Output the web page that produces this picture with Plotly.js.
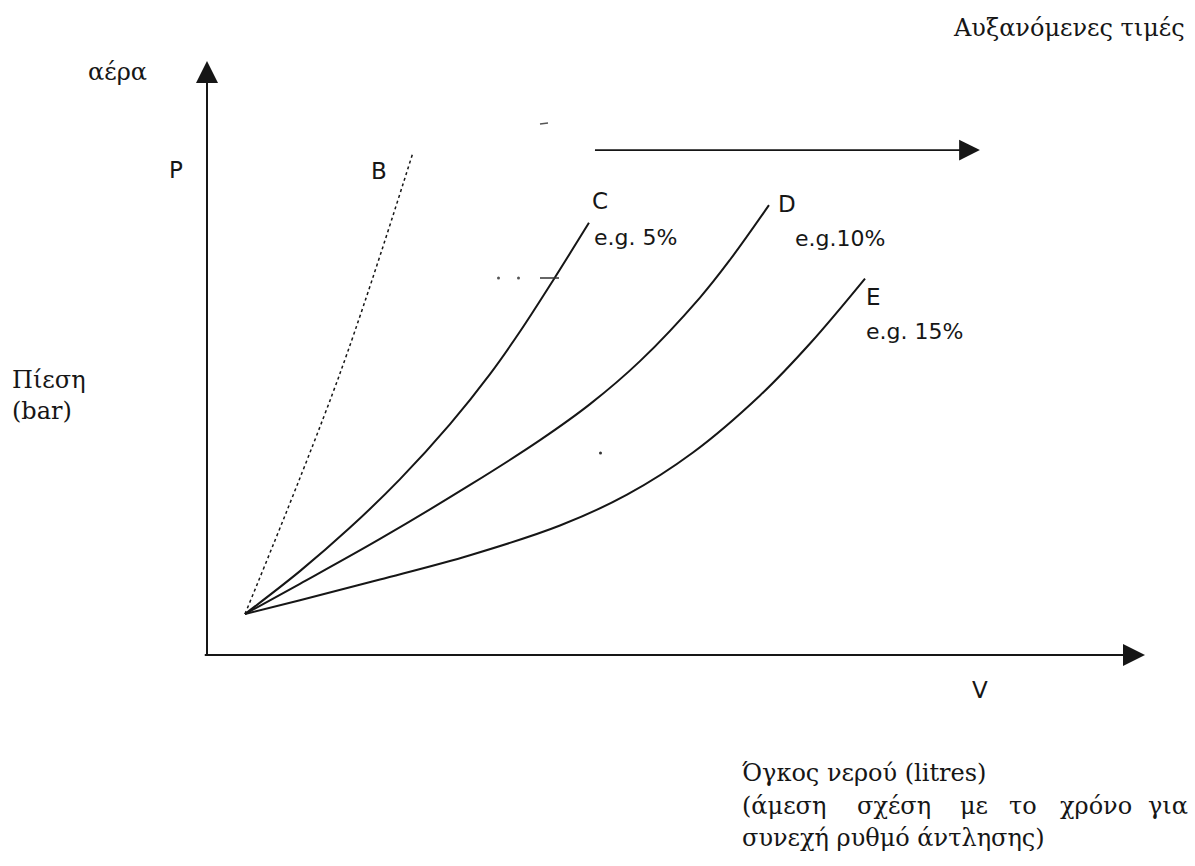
<!DOCTYPE html>
<html>
<head>
<meta charset="utf-8">
<script src="https://cdn.plot.ly/plotly-3.0.1.min.js"></script>
<style>html,body{margin:0;padding:0;background:#fff;}#chart{width:1195px;height:866px;}</style>
</head>
<body>
<div id="chart"></div>
<script>
// Values (arbitrary units: V 0-100, P 0-100)
const curveB_V = [4.05, 14.2, 21.9];
const curveB_P = [6.9, 47.5, 84.3];

const curveC_V = [4.05, 9.91, 15.25, 20.58, 25.91, 30.17, 33.37, 36.89, 40.72];
const curveC_P = [6.9, 14.12, 21.45, 29.61, 38.87, 47.29, 54.46, 63.06, 72.76];

const curveD_V = [4.05, 9.91, 18.44, 28.04, 35.50, 40.83, 46.16, 52.56, 55.76, 59.91];
const curveD_P = [6.9, 11.99, 19.54, 28.63, 36.17, 42.23, 49.47, 60.18, 66.54, 75.73];

const curveE_V = [4.05, 9.91, 18.44, 28.04, 37.63, 44.78, 51.81, 58.96, 64.29, 70.15];
const curveE_P = [6.9, 9.22, 12.71, 16.80, 21.80, 26.99, 34.09, 43.69, 52.44, 63.37];

const curveLetters = ["B", "C", "D", "E"];
const curveNotes = ["", "e.g. 5%", "e.g.10%", "e.g. 15%"];
const xTitleLine1 = "Όγκος νερού (litres)";
const xTitleLine2Words = ["(άμεση", "σχέση", "με", "το", "χρόνο", "για"];
const xTitleLine3 = "συνεχή ρυθμό άντλησης)";

const serif = "DejaVu Serif, Liberation Serif, serif";
const sans = "DejaVu Sans, Arial, sans-serif";
const ink = "#161616";

const traces = [
  {x: curveB_V, y: curveB_P, mode: "lines", line: {color: ink, width: 1.5, dash: "dot", shape: "spline"}, hoverinfo: "skip"},
  {x: curveC_V, y: curveC_P, mode: "lines", line: {color: ink, width: 2, shape: "spline", smoothing: 1}, hoverinfo: "skip"},
  {x: curveD_V, y: curveD_P, mode: "lines", line: {color: ink, width: 2, shape: "spline", smoothing: 1}, hoverinfo: "skip"},
  {x: curveE_V, y: curveE_P, mode: "lines", line: {color: ink, width: 2, shape: "spline", smoothing: 1}, hoverinfo: "skip"}
];

const hiddenAxis = {range: [0, 100], showgrid: false, zeroline: false, showticklabels: false, showline: false, ticks: "", fixedrange: true};

const ann = [];
// axis arrows
ann.push({x: 0, y: 100, ax: 0, ay: -0.4, xref: "x", yref: "y", axref: "x", ayref: "y", showarrow: true, arrowhead: 2, arrowsize: 2.2, arrowwidth: 2, arrowcolor: ink, text: ""});
ann.push({x: 100, y: 0, ax: -0.4, ay: 0, xref: "x", yref: "y", axref: "x", ayref: "y", showarrow: true, arrowhead: 2, arrowsize: 2.2, arrowwidth: 2, arrowcolor: ink, text: ""});
// "increasing values" arrow
ann.push({x: 82.4, y: 85.0, ax: 41.2, ay: 85.0, xref: "x", yref: "y", axref: "x", ayref: "y", showarrow: true, arrowhead: 2, arrowsize: 2.6, arrowwidth: 1.6, arrowcolor: ink, text: ""});

function txt(t, x, y, font, size, xanchor) {
  return {text: t, x: x, y: y, xref: "paper", yref: "paper", xanchor: xanchor || "left", yanchor: "middle", showarrow: false, font: {family: font, size: size, color: ink}};
}
// paper coords: plot area x 207..1145, y 61..655
function px(X) { return (X - 207) / 938; }
function py(Y) { return (655 - Y) / 594; }

ann.push(txt("αέρα", px(86), py(72), serif, 24));
ann.push(txt("Αυξανόμενες τιμές", px(1187), py(28), serif, 24, "right"));
ann.push(txt("P", px(167), py(170), sans, 23));
ann.push(txt(curveLetters[0], px(369), py(171), sans, 23));
ann.push(txt(curveLetters[1], px(590), py(201), sans, 23));
ann.push(txt(curveNotes[1], px(592), py(237), sans, 22));
ann.push(txt(curveLetters[2], px(776), py(204), sans, 23));
ann.push(txt(curveNotes[2], px(793), py(239), sans, 22));
ann.push(txt(curveLetters[3], px(864), py(297), sans, 23));
ann.push(txt(curveNotes[3], px(864), py(331), sans, 22));
ann.push(txt("Πίεση", px(10), py(380), serif, 24));
ann.push(txt("(bar)", px(10), py(411), serif, 24));
ann.push(txt("V", px(970), py(690), sans, 23));
ann.push(txt(xTitleLine1, px(740), py(773), serif, 24));
const line2X = [740, 855, 958, 1007, 1058, 1190];
xTitleLine2Words.forEach(function (w, i) {
  ann.push(txt(w, px(line2X[i]), py(806), serif, 24, i === xTitleLine2Words.length - 1 ? "right" : "left"));
});
ann.push(txt(xTitleLine3, px(740), py(838), serif, 24));

const shapes = [
  {type: "line", xref: "paper", yref: "paper", x0: px(540), x1: px(559), y0: py(278), y1: py(278), line: {color: "#333", width: 1.5}},
  {type: "circle", xref: "paper", yref: "paper", x0: px(497), x1: px(500), y0: py(279.5), y1: py(276.5), fillcolor: "#555", line: {width: 0}},
  {type: "circle", xref: "paper", yref: "paper", x0: px(517), x1: px(520), y0: py(279.5), y1: py(276.5), fillcolor: "#555", line: {width: 0}},
  {type: "circle", xref: "paper", yref: "paper", x0: px(599), x1: px(602), y0: py(454.5), y1: py(451.5), fillcolor: "#333", line: {width: 0}},
  {type: "line", xref: "paper", yref: "paper", x0: px(540), x1: px(548), y0: py(124), y1: py(123), line: {color: "#555", width: 1.5}}
];

const layout = {
  width: 1195, height: 866,
  margin: {l: 207, r: 50, t: 61, b: 211},
  paper_bgcolor: "#fff", plot_bgcolor: "#fff",
  showlegend: false,
  xaxis: hiddenAxis,
  yaxis: Object.assign({}, hiddenAxis),
  annotations: ann,
  shapes: shapes
};

Plotly.newPlot("chart", traces, layout, {staticPlot: true, displayModeBar: false});
</script>
</body>
</html>
